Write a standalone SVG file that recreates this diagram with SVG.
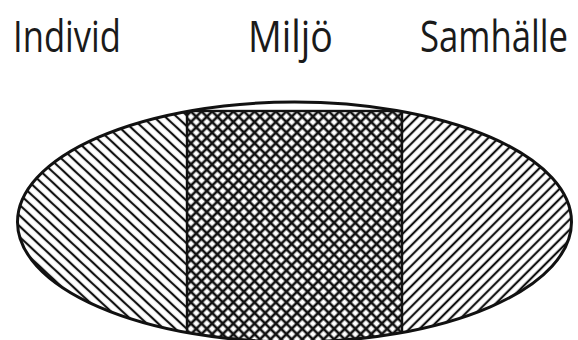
<svg xmlns="http://www.w3.org/2000/svg" width="578" height="340" viewBox="0 0 578 340">
<style>
.lbl{font-family:"Open Sans","Liberation Sans",sans-serif;font-size:43px;fill:#1a1a1a}
.hl{stroke:#111;stroke-width:2.2}
.cl{stroke:#111;stroke-width:2.6}
</style>
<defs>
<pattern id="hatchL" patternUnits="userSpaceOnUse" width="7.8" height="7.8" patternTransform="rotate(43)">
<line class="hl" x1="-1" y1="3.9" x2="8.8" y2="3.9"/>
</pattern>
<pattern id="hatchR" patternUnits="userSpaceOnUse" width="7.2" height="7.2" patternTransform="rotate(-45)">
<line class="hl" x1="-1" y1="3.6" x2="8.2" y2="3.6"/>
</pattern>
<pattern id="cross" patternUnits="userSpaceOnUse" width="7.5" height="7.5" patternTransform="rotate(45)">
<rect width="7.5" height="7.5" fill="#fff"/>
<line class="cl" x1="-1" y1="3.75" x2="8.5" y2="3.75"/>
<line class="cl" x1="3.75" y1="-1" x2="3.75" y2="8.5"/>
</pattern>
<clipPath id="ell"><ellipse cx="294.5" cy="222" rx="277" ry="120"/></clipPath>
</defs>
<rect width="578" height="340" fill="#fff"/>
<g id="individ">
<rect x="0" y="90" width="187" height="260" fill="url(#hatchL)" clip-path="url(#ell)"/>
<text class="lbl" transform="translate(13,52) scale(0.8,1)" x="0" y="0" textLength="135" lengthAdjust="spacingAndGlyphs">Individ</text>
</g>
<g id="samhalle">
<rect x="402" y="90" width="176" height="260" fill="url(#hatchR)" clip-path="url(#ell)"/>
<text class="lbl" transform="translate(420,52) scale(0.8,1)" x="0" y="0" textLength="185" lengthAdjust="spacingAndGlyphs">Samhälle</text>
</g>
<g id="miljo">
<g clip-path="url(#ell)">
<rect x="187" y="111" width="215" height="240" fill="url(#cross)" stroke="#111" stroke-width="2.4"/>
</g>
<text class="lbl" transform="translate(248,52) scale(0.8,1)" x="0" y="0" textLength="106" lengthAdjust="spacingAndGlyphs">Miljö</text>
</g>
<g id="outline">
<ellipse cx="294.5" cy="222" rx="277" ry="120" fill="none" stroke="#111" stroke-width="3"/>
</g>
<g id="connectors"/>
</svg>
